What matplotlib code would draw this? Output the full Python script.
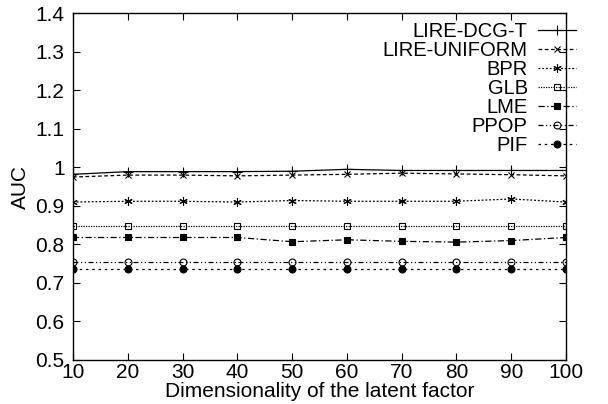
import matplotlib
matplotlib.use("Agg")
import matplotlib.pyplot as plt

plt.rcParams['font.family'] = ['Liberation Sans', 'DejaVu Sans']

dims = [10, 20, 30, 40, 50, 60, 70, 80, 90, 100]
lire_dcg_t = [0.982, 0.989, 0.989, 0.989, 0.990, 0.995, 0.992, 0.992, 0.992, 0.992]
lire_uniform = [0.975, 0.980, 0.980, 0.978, 0.980, 0.982, 0.985, 0.983, 0.981, 0.978]
bpr = [0.910, 0.912, 0.912, 0.910, 0.914, 0.912, 0.912, 0.912, 0.918, 0.910]
glb = [0.848, 0.848, 0.848, 0.848, 0.848, 0.848, 0.848, 0.848, 0.848, 0.848]
lme = [0.818, 0.818, 0.818, 0.818, 0.807, 0.812, 0.808, 0.806, 0.810, 0.818]
ppop = [0.755, 0.755, 0.755, 0.755, 0.755, 0.755, 0.755, 0.755, 0.755, 0.755]
pif = [0.736, 0.736, 0.736, 0.736, 0.736, 0.736, 0.736, 0.736, 0.736, 0.736]

yticks = [0.5, 0.6, 0.7, 0.8, 0.9, 1.0, 1.1, 1.2, 1.3, 1.4]
ytick_labels = ['0.5', '0.6', '0.7', '0.8', '0.9', '1', '1.1', '1.2', '1.3', '1.4']

fig = plt.figure(figsize=(6.08, 4.04), dpi=100)
ax = fig.add_axes([0.12, 0.109, 0.811, 0.858])

lw = 0.9
ax.plot(dims, lire_dcg_t, color='black', lw=lw, ls='-', marker='+', ms=7, mew=0.8, label='LIRE-DCG-T')
ax.plot(dims, lire_uniform, color='black', lw=lw, ls=(0, (3, 2)), marker='x', ms=5, mew=0.8, label='LIRE-UNIFORM')
ax.plot(dims, bpr, color='black', lw=lw, ls=(0, (1.5, 1.5)), marker=(6, 2, 0), ms=6, mew=0.8, label='BPR')
ax.plot(dims, glb, color='black', lw=lw, ls=(0, (1, 1)), marker='s', ms=5, mfc='none', mew=0.8, label='GLB')
ax.plot(dims, lme, color='black', lw=lw, ls=(0, (5, 2, 1, 2)), marker='s', ms=5, mfc='black', mew=0.8, label='LME')
ax.plot(dims, ppop, color='black', lw=lw, ls=(0, (4, 2, 1, 2, 1, 2)), marker='o', ms=5, mfc='none', mew=0.8, label='PPOP')
ax.plot(dims, pif, color='black', lw=lw, ls=(0, (2, 3)), marker='o', ms=5, mfc='black', mew=0.8, label='PIF')

ax.set_xlim(10, 100)
ax.set_ylim(0.5, 1.4)
ax.set_xticks(dims)
ax.set_yticks(yticks)
ax.set_yticklabels(ytick_labels)
ax.tick_params(direction='in', top=True, right=True, labelsize=15, length=5, width=0.8)
ax.tick_params(axis='x', pad=2)
ax.tick_params(axis='y', pad=6)
for s in ax.spines.values():
    s.set_linewidth(1.0)

ax.set_xlabel('Dimensionality of the latent factor', fontsize=15, labelpad=0.5)
ax.set_ylabel('AUC', fontsize=15, labelpad=4)

leg = ax.legend(loc='upper right', frameon=False, markerfirst=False, fontsize=14.5,
                handlelength=1.9, handletextpad=0.5, labelspacing=0.0,
                borderpad=0.0, borderaxespad=0.0,
                bbox_to_anchor=(576 / 608, 1 - 22 / 404), bbox_transform=fig.transFigure)
for t in leg.get_texts():
    t.set_ha('right')

fig.savefig('out.png', dpi=100)
